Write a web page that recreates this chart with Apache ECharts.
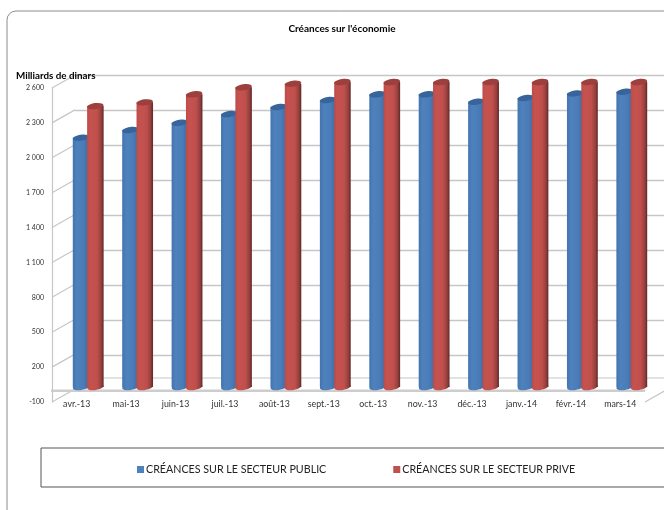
<!DOCTYPE html>
<html><head><meta charset="utf-8">
<style>html,body{margin:0;padding:0;background:#fff}#c{width:664px;height:510px}</style>
<script src="https://cdn.jsdelivr.net/npm/echarts@6/dist/echarts.min.js"></script>
</head><body><div id="c"></div>
<script>
const categories = ['avr.-13','mai-13','juin-13','juil.-13','août-13','sept.-13','oct.-13','nov.-13','déc.-13','janv.-14','févr.-14','mars-14'];
const publicValues = [2037,2103,2165,2240,2300,2360,2409,2409,2345,2377,2417,2431];
const priveValues = [2308,2340,2409,2469,2500,2514,2514,2514,2514,2514,2514,2514];
const yTicks = [-100,200,500,800,1100,1400,1700,2000,2300,2600];
const yMin = -100, yMax = 2600, yStep = 300;
const FONT = 'Lato';
const chart = echarts.init(document.getElementById('c'), null, {renderer:'canvas'});
const fmt = v => String(v).replace(/\B(?=(\d{3})+$)/g,' ');
const wallColor = '#c6c6c6';

function cylinder(side, stops, topColor){
  return function(params, api){
    const band = api.size([1,0])[0];
    const x0 = api.coord([api.value(0),0])[0];
    const cx = x0 + side*band*0.145;
    const w = band*0.334, rx = w/2, ry = 3;
    const yTop = api.coord([api.value(0),api.value(1)])[1];
    const yBot = api.coord([api.value(0),yMin])[1];
    const fill = {type:'linear',x:0,y:0,x2:1,y2:0,colorStops:stops};
    const tilt = 0.14;
    return {type:'group',children:[
      {type:'ellipse',shape:{cx:cx,cy:yBot,rx:rx,ry:ry},rotation:tilt,originX:cx,originY:yBot,style:{fill:fill}},
      {type:'rect',shape:{x:cx-rx,y:yTop,width:w,height:yBot-yTop},style:{fill:fill}},
      {type:'ellipse',shape:{cx:cx,cy:yTop,rx:rx,ry:ry},rotation:tilt,originX:cx,originY:yTop,style:{fill:topColor}}
    ]};
  };
}
const blueStops = [{offset:0,color:'#4274ae'},{offset:.25,color:'#4f81bd'},{offset:.65,color:'#4a7cb8'},{offset:1,color:'#3a6aa2'}];
const redStops = [{offset:0,color:'#bb4c49'},{offset:.2,color:'#c6524f'},{offset:.6,color:'#c0504d'},{offset:.85,color:'#96403e'},{offset:1,color:'#602725'}];

function sideWall(params, api){
  const c = api.coord([0,api.value(1)]);
  const x = params.coordSys.x, y = c[1];
  const right = params.coordSys.x + params.coordSys.width;
  const kids = [{type:'line',shape:{x1:x,y1:y,x2:x+23,y2:y-13},style:{stroke:wallColor,lineWidth:1.2}}];
  if (api.value(1) === yMin) {
    kids.push({type:'line',shape:{x1:right,y1:y,x2:right+23,y2:y-13},style:{stroke:wallColor,lineWidth:1.2}});
    kids.push({type:'rect',shape:{x:x-1,y:y-12.5,width:right-x+1,height:2.5},style:{fill:'#cdcdcd'}});
    kids.push({type:'line',shape:{x1:x+23,y1:y-24,x2:right+23,y2:y-24},style:{stroke:wallColor,lineWidth:1.2}});
  }
  return {type:'group',children:kids};
}

chart.setOption({
  animation:false,
  backgroundColor:'#fff',
  textStyle:{fontFamily:FONT},
  title:[
    {text:"Créances sur l'économie",left:337,top:19,textAlign:'center',textStyle:{fontFamily:FONT,fontSize:10,fontWeight:'bold',color:'#000'}},
    {text:'Milliards de dinars',left:11,top:66,textStyle:{fontFamily:FONT,fontSize:9.8,fontWeight:'bold',color:'#000'}}
  ],
  graphic:[
    {type:'rect',z:-10,shape:{x:7,y:11,width:800,height:700,r:9},style:{fill:'#fff',stroke:'#8c8c8c',lineWidth:1}},
    {type:'rect',z:-9,shape:{x:41,y:448,width:800,height:39},style:{fill:'#fff',stroke:'#555',lineWidth:1}}
  ],
  legend:{
    left:132,top:459,itemWidth:7,itemHeight:7,itemGap:67,icon:'rect',
    data:['CRÉANCES SUR LE SECTEUR PUBLIC','CRÉANCES SUR LE SECTEUR PRIVE'],
    textStyle:{fontFamily:FONT,fontSize:10.7,color:'#222',padding:[0,0,0,-3]}
  },
  grid:[
    {left:52,top:88,width:593,height:314},
    {left:75,top:75,width:593,height:315},
    {left:63.5,top:72,width:593,height:315}
  ],
  xAxis:[
    {type:'category',gridIndex:0,data:categories,axisTick:{show:false},
      axisLine:{show:true,lineStyle:{color:wallColor,width:1.2}},
      axisLabel:{interval:0,margin:-2,fontFamily:FONT,fontSize:8.8,color:'#333'}},
    {type:'category',gridIndex:1,data:categories,show:false},
    {type:'category',gridIndex:2,data:categories,show:false}
  ],
  yAxis:[
    {type:'value',gridIndex:0,min:yMin,max:yMax,interval:yStep,splitLine:{show:false},axisTick:{show:false},
      axisLine:{show:true,lineStyle:{color:wallColor,width:1.2}},
      axisLabel:{margin:8,padding:[2,0,0,0],formatter:fmt,fontFamily:FONT,fontSize:7,color:'#333'}},
    {type:'value',gridIndex:1,min:yMin,max:yMax,interval:yStep,axisLine:{show:false},axisTick:{show:false},axisLabel:{show:false},
      splitLine:{show:true,showMinLine:false,lineStyle:{color:wallColor,width:1.3}}},
    {type:'value',gridIndex:2,min:yMin,max:yMax,interval:yStep,show:false,splitLine:{show:false}}
  ],
  series:[
    {type:'custom',name:'walls',xAxisIndex:0,yAxisIndex:0,silent:true,clip:false,z:1,
      data:yTicks.map(v=>[0,v]),renderItem:sideWall,encode:{x:0,y:1}},
    {type:'custom',name:'CRÉANCES SUR LE SECTEUR PUBLIC',xAxisIndex:2,yAxisIndex:2,clip:false,z:3,
      itemStyle:{color:'#4f81bd'},data:publicValues.map((v,i)=>[i,v]),
      renderItem:cylinder(-1,blueStops,'#37649a'),encode:{x:0,y:1}},
    {type:'custom',name:'CRÉANCES SUR LE SECTEUR PRIVE',xAxisIndex:2,yAxisIndex:2,clip:false,z:4,
      itemStyle:{color:'#c0504d'},data:priveValues.map((v,i)=>[i,v]),
      renderItem:cylinder(1,redStops,'#9c3f3d'),encode:{x:0,y:1}}
  ]
});
</script></body></html>
